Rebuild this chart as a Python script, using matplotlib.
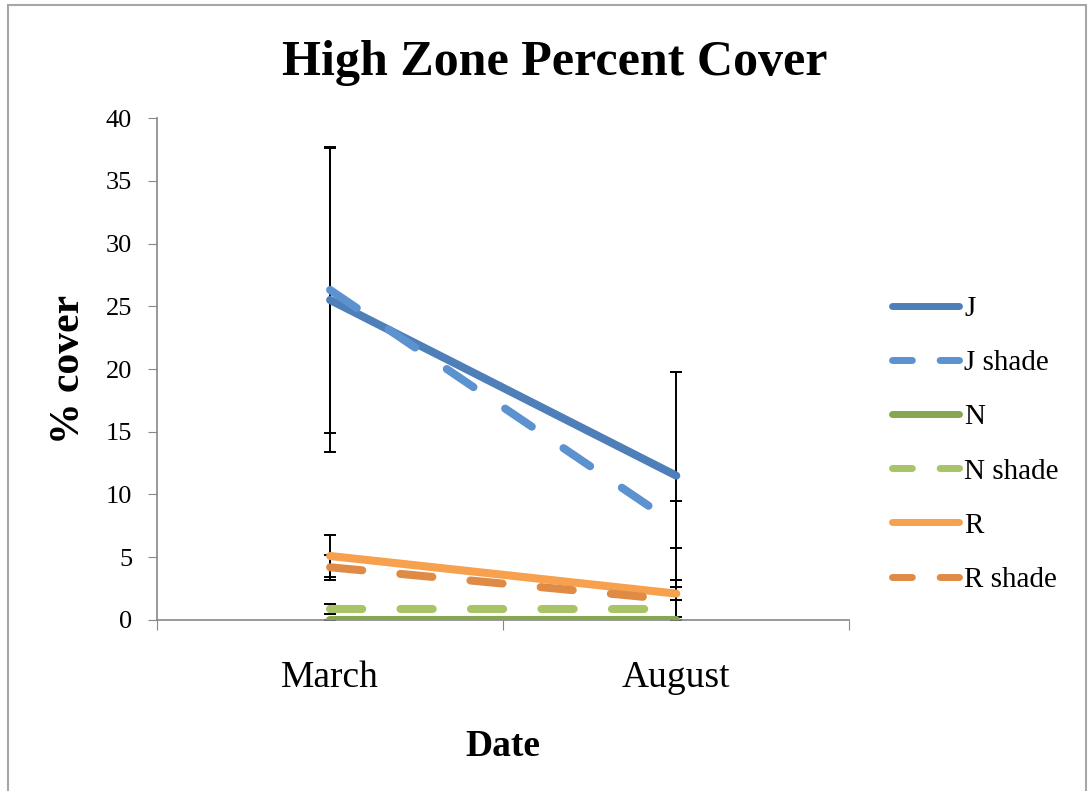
import matplotlib.pyplot as plt
from matplotlib.patches import Rectangle

# data
dates = ['March', 'August']
series = ['J', 'J shade', 'N', 'N shade', 'R', 'R shade']
j_vals = [25.5, 11.5]
j_err = [12.1, 8.3]
jshade_vals = [26.3, 7.6]
jshade_err = [11.4, 1.9]
n_vals = [0.0, 0.0]
n_err = [0.0, 0.0]
nshade_vals = [0.9, 0.9]
nshade_err = [0.4, 0.7]
r_vals = [5.1, 2.1]
r_err = [1.7, 0.5]
rshade_vals = [4.2, 1.6]
rshade_err = [1.0, 1.6]

values = [j_vals, jshade_vals, n_vals, nshade_vals, r_vals, rshade_vals]
errors = [j_err, jshade_err, n_err, nshade_err, r_err, rshade_err]
colors = ['#4f7fb8', '#5b92cf', '#87a650', '#a8c466', '#f7a04e', '#e08b45']
dashed = [False, True, False, True, False, True]

serif = 'Liberation Serif'

fig = plt.figure(figsize=(10.92, 7.91), dpi=100)
# chart area border
fig.patches.append(Rectangle((0.0073, -0.01), 0.987, 1.0037, transform=fig.transFigure,
                             fill=False, edgecolor='#a6a6a6', linewidth=1.5))
ax = fig.add_axes([0.1438, 0.2162, 0.634, 0.6346])

x = range(len(dates))
for name, vals, err, col, dsh in zip(series, values, errors, colors, dashed):
    ax.errorbar(x, vals, yerr=err, fmt='none', ecolor='black', elinewidth=1.4,
                capsize=4.5, capthick=1.4, zorder=2)
    ls = (0, (4, 4.75)) if dsh else '-'
    ax.plot(x, vals, color=col, linewidth=5.8, linestyle=ls, solid_capstyle='round',
            dash_capstyle='round', label=name, zorder=3)

ax.set_xlim(-0.5, 1.5)
ax.set_ylim(0, 40)
ax.set_yticks(range(0, 41, 5))
ax.set_xticks([-0.5, 0.5, 1.5])
ax.set_xticklabels([])
ax.set_xticks([0, 1], minor=True)
ax.set_xticklabels(dates, minor=True)
ax.tick_params(axis='x', which='minor', length=0, pad=29, labelsize=27)
ax.tick_params(axis='x', which='major', length=7, color='#888888', direction='out')
ax.tick_params(axis='y', length=6.5, color='#888888', labelsize=19, pad=11.5)
for lab in ax.get_xticklabels(minor=True) + ax.get_yticklabels():
    lab.set_family(serif)
for s in ['top', 'right']:
    ax.spines[s].set_visible(False)
for s in ['left', 'bottom']:
    ax.spines[s].set_color('#888888')
    ax.spines[s].set_linewidth(1.2)

ax.set_xlabel('Date', fontsize=27, fontweight='bold', family=serif, labelpad=25)
fig.text(0.063, 0.5335, '% cover', rotation=90, ha='center', va='center',
         fontsize=30, fontweight='bold', family=serif)
fig.text(0.508, 1 - 75 / 791, 'High Zone Percent Cover', ha='center', va='baseline',
         fontsize=36, fontweight='bold', family=serif)

leg = ax.legend(loc='center left', bbox_to_anchor=(1.023, 0.35), frameon=False,
                prop={'family': serif, 'size': 21}, handlelength=2.33,
                handletextpad=0.17, labelspacing=0.95)
for line, dsh in zip(leg.get_lines(), dashed):
    if dsh:
        line.set_linestyle((0, (2.86, 4.0)))
    line.set_linewidth(5)
    line.set_dash_capstyle('round')
    line.set_solid_capstyle('round')

fig.savefig('out.png', dpi=100)
